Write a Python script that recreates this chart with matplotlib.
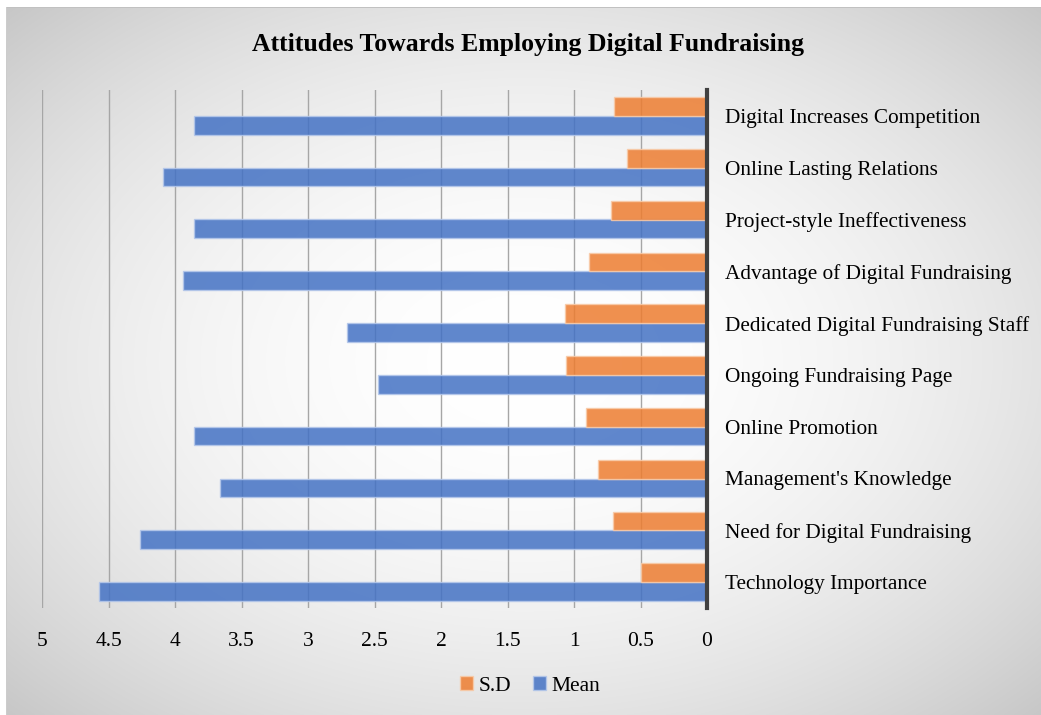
import numpy as np
import matplotlib
matplotlib.use("Agg")
import matplotlib.pyplot as plt
from matplotlib.patches import Patch

# data, bottom -> top
categories = ["Technology Importance", "Need for Digital Fundraising",
              "Management's Knowledge", "Online Promotion",
              "Ongoing Fundraising Page", "Dedicated Digital Fundraising Staff",
              "Advantage of Digital Fundraising", "Project-style Ineffectiveness",
              "Online Lasting Relations", "Digital Increases Competition"]
mean_vals = [4.57, 4.26, 3.66, 3.86, 2.47, 2.71, 3.94, 3.86, 4.09, 3.86]
sd_vals = [0.50, 0.71, 0.82, 0.91, 1.06, 1.07, 0.89, 0.72, 0.60, 0.70]
xticks = [0, 0.5, 1, 1.5, 2, 2.5, 3, 3.5, 4, 4.5, 5]
xtick_labels = ["0", "0.5", "1", "1.5", "2", "2.5", "3", "3.5", "4", "4.5", "5"]

plt.rcParams['font.family'] = ['Liberation Serif', 'DejaVu Serif']

fig = plt.figure(figsize=(10.41, 7.15), dpi=100)

# radial gradient background, white margin on top/left
bg = fig.add_axes([0, 0, 1, 1], zorder=-10)
yy, xx = np.mgrid[0:715, 0:1041]
rx = (xx - 524) / 517.0
ry = (yy - 361) / 354.0
r2 = (rx ** 2 + ry ** 2) / 2
g = 1.0 - 0.22 * r2
g[:8, :] = 1.0
g[:, :7] = 1.0
g[7, 7:] = 0.76
g[7:, 6] = 0.80
bg.imshow(np.dstack([g, g, g]), aspect='auto', extent=(0, 1, 0, 1), origin='upper',
          interpolation='nearest')
bg.axis('off')

ax = fig.add_axes([42 / 1041, 1 - 608 / 715, (707 - 42) / 1041, (608 - 90) / 715])
ax.set_facecolor('none')

y = np.arange(len(categories))
h = 0.36
ax.barh(y - h / 2, mean_vals, height=h, color='#4472C4', alpha=0.85,
        edgecolor='#b4c7ea', linewidth=1, zorder=3, label='Mean')
ax.barh(y + h / 2, sd_vals, height=h, color='#ED7D31', alpha=0.85,
        edgecolor='#f8cba9', linewidth=1, zorder=3, label='S.D')

ax.set_xlim(5, 0)
ax.set_ylim(-0.5, 9.5)
ax.set_xticks(xticks)
ax.set_xticklabels(xtick_labels, fontsize=15.5)
ax.xaxis.grid(True, color='#a6a6a6', linewidth=1, zorder=1)
ax.set_axisbelow(True)

ax.yaxis.tick_right()
ax.set_yticks(y)
ax.set_yticklabels(categories, fontsize=15.3)
ax.tick_params(axis='y', length=0, pad=13)
ax.tick_params(axis='x', length=0, pad=17)

for s in ['top', 'bottom', 'left']:
    ax.spines[s].set_visible(False)
ax.spines['right'].set_color('#404040')
ax.spines['right'].set_linewidth(3)
ax.spines['right'].set_zorder(5)

fig.text(528 / 1041, 1 - 45 / 715, "Attitudes Towards Employing Digital Fundraising",
         ha='center', va='center', fontsize=18.5, fontweight='bold')

handles = [Patch(facecolor='#ED7D31', alpha=0.85, edgecolor='#f8cba9'),
           Patch(facecolor='#4472C4', alpha=0.85, edgecolor='#b4c7ea')]
fig.legend(handles, ['S.D', 'Mean'], loc='center', bbox_to_anchor=(530 / 1041, 1 - 686 / 715),
           ncol=2, frameon=False, fontsize=15.5, handlelength=0.6, handleheight=0.6,
           handletextpad=0.25, columnspacing=1.0)

fig.savefig("out.png", dpi=100)
